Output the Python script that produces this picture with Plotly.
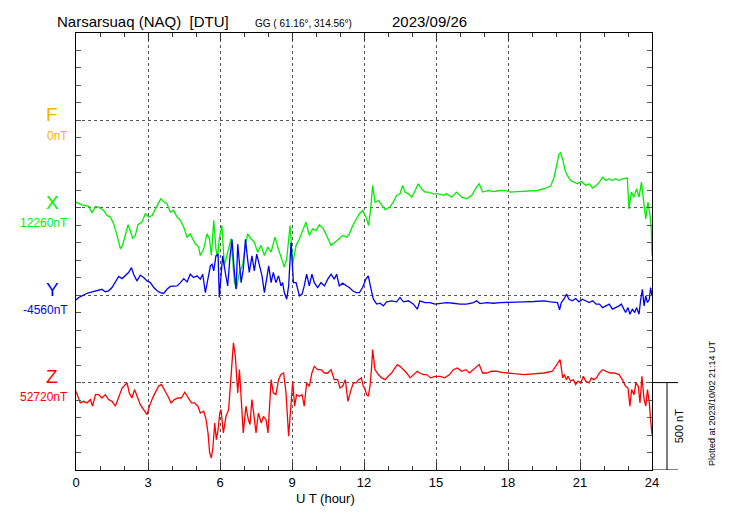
import plotly.graph_objects as go

# ---------------- data ----------------
x_hours = [0.00,0.25,0.53,0.67,0.81,0.94,1.15,1.29,1.43,1.57,1.71,1.85,1.94,2.06,2.17,2.26,2.36,2.47,2.58,2.75,2.89,3.03,3.17,3.31,3.44,3.53,3.65,3.79,3.93,4.07,4.21,4.35,4.49,4.63,4.76,4.86,4.97,5.11,5.18,5.32,5.46,5.56,5.64,5.74,5.83,5.90,
           5.97,6.08,6.18,6.32,6.46,6.60,6.69,6.81,6.94,7.06,7.15,7.29,7.43,7.57,7.71,7.85,7.99,8.13,8.29,8.43,8.57,8.68,8.78,8.92,9.03,9.17,9.31,9.47,9.58,9.72,9.86,10.00,10.14,10.31,10.46,10.63,10.81,10.97,11.11,11.28,11.39,11.53,11.67,11.81,11.94,
           12.11,12.19,12.28,12.36,12.46,12.60,12.74,12.88,13.08,13.22,13.36,13.50,13.61,13.71,13.85,13.99,14.13,14.26,14.40,14.54,14.68,14.89,15.10,15.31,15.44,15.65,15.86,16.07,16.28,16.49,16.69,16.80,16.94,17.18,17.39,17.67,17.88,
           18.11,18.39,18.67,18.94,19.22,19.50,19.78,19.92,20.03,20.13,20.19,20.29,20.38,20.47,20.61,20.75,20.89,21.06,21.24,21.38,21.53,21.67,21.81,21.94,22.08,22.21,22.35,22.49,22.63,22.76,22.97,23.04,23.14,23.25,23.36,23.46,23.56,23.64,23.74,23.83,23.92,23.97,24.00]
x_nT = [12292,12277,12268,12231,12268,12264,12245,12216,12207,12168,12102,12025,12045,12102,12163,12130,12086,12102,12163,12178,12226,12207,12216,12254,12283,12311,12296,12283,12235,12245,12207,12188,12149,12092,12111,12083,12054,12035,11987,12025,12111,12083,11987,12188,12025,11978,
        12083,12159,11930,12006,12083,11835,11797,11892,11930,12045,12111,12083,12064,12006,12045,11987,12035,12006,12092,12025,11959,11921,11968,12159,11940,12045,12083,12140,12178,12102,12140,12130,12163,12140,12092,12045,12064,12083,12102,12092,12111,12159,12197,12226,12245,
        12197,12159,12254,12388,12292,12302,12273,12250,12264,12292,12331,12340,12388,12350,12340,12321,12359,12397,12369,12350,12350,12340,12340,12331,12340,12321,12350,12321,12311,12331,12378,12397,12350,12359,12353,12359,12359,
        12350,12353,12355,12359,12359,12369,12384,12435,12502,12569,12575,12531,12474,12445,12416,12407,12397,12411,12388,12397,12373,12388,12407,12435,12416,12426,12416,12426,12416,12426,12430,12254,12350,12321,12369,12321,12407,12311,12197,12292,12216,12140,11987]

y_hours = [0.00,0.11,0.25,0.46,0.67,0.88,1.08,1.22,1.36,1.50,1.64,1.78,1.92,2.06,2.19,2.31,2.40,2.54,2.68,2.82,2.96,3.10,3.24,3.38,3.51,3.65,3.79,3.93,4.07,4.21,4.35,4.49,4.63,4.76,4.90,5.04,5.18,5.28,5.39,5.50,5.60,5.67,5.74,5.83,5.92,5.97,
           6.11,6.22,6.32,6.42,6.50,6.60,6.67,6.74,6.81,6.88,6.97,7.06,7.15,7.22,7.33,7.43,7.53,7.64,7.75,7.85,7.94,8.03,8.13,8.22,8.33,8.44,8.54,8.61,8.68,8.78,8.86,8.96,9.06,9.17,9.31,9.42,9.51,9.61,9.72,9.83,9.93,10.07,10.21,10.35,10.49,10.63,10.76,10.86,10.97,11.11,11.28,11.39,11.53,11.67,11.81,11.94,
           12.08,12.18,12.28,12.39,12.53,12.67,12.81,12.94,13.15,13.36,13.50,13.64,13.85,14.06,14.22,14.33,14.54,14.75,14.96,15.17,15.44,15.72,16.00,16.28,16.56,16.69,16.83,17.11,17.39,17.67,17.94,
           18.25,18.67,19.08,19.50,19.78,19.92,20.06,20.15,20.22,20.33,20.44,20.54,20.68,20.82,20.96,21.10,21.24,21.38,21.53,21.67,21.81,21.94,22.08,22.22,22.35,22.49,22.63,22.72,22.83,22.90,23.00,23.08,23.18,23.28,23.36,23.46,23.53,23.60,23.67,23.74,23.81,23.89,23.94,24.00]
y_nT = [-4587,-4573,-4564,-4549,-4541,-4535,-4526,-4541,-4535,-4516,-4488,-4453,-4465,-4449,-4430,-4402,-4440,-4478,-4446,-4459,-4478,-4488,-4516,-4535,-4545,-4550,-4526,-4510,-4507,-4507,-4488,-4465,-4484,-4440,-4459,-4449,-4468,-4440,-4545,-4468,-4392,-4383,-4421,-4335,-4325,-4573,
        -4335,-4430,-4507,-4335,-4240,-4430,-4526,-4268,-4392,-4488,-4411,-4240,-4354,-4430,-4335,-4421,-4325,-4392,-4449,-4545,-4468,-4392,-4488,-4430,-4488,-4449,-4507,-4488,-4545,-4583,-4507,-4259,-4488,-4488,-4564,-4554,-4507,-4440,-4507,-4440,-4488,-4516,-4488,-4507,-4468,-4440,-4468,-4440,-4507,-4491,-4507,-4516,-4535,-4545,-4545,-4516,
        -4468,-4449,-4516,-4583,-4611,-4606,-4621,-4598,-4592,-4598,-4573,-4598,-4592,-4611,-4640,-4592,-4602,-4602,-4611,-4608,-4602,-4606,-4611,-4611,-4602,-4592,-4608,-4602,-4606,-4602,-4602,
        -4602,-4598,-4596,-4592,-4598,-4602,-4602,-4644,-4602,-4583,-4554,-4583,-4592,-4579,-4598,-4583,-4592,-4602,-4592,-4611,-4611,-4631,-4621,-4611,-4640,-4631,-4621,-4611,-4640,-4659,-4631,-4669,-4640,-4659,-4631,-4669,-4583,-4526,-4621,-4564,-4602,-4583,-4516,-4564]

z_hours = [0.00,0.08,0.18,0.32,0.46,0.60,0.69,0.81,0.94,1.08,1.22,1.36,1.50,1.64,1.78,1.92,2.06,2.13,2.22,2.33,2.44,2.54,2.68,2.82,2.96,3.06,3.19,3.33,3.44,3.56,3.69,3.83,3.96,4.10,4.24,4.39,4.53,4.67,4.81,4.94,5.08,5.18,5.32,5.42,5.50,5.57,5.64,5.71,5.78,5.85,5.92,5.99,
           6.04,6.14,6.25,6.36,6.46,6.56,6.64,6.74,6.81,6.89,6.97,7.08,7.18,7.25,7.33,7.42,7.50,7.60,7.72,7.81,7.92,8.00,8.06,8.13,8.22,8.33,8.44,8.54,8.65,8.75,8.86,8.94,9.03,9.11,9.19,9.31,9.42,9.51,9.61,9.72,9.83,9.93,10.07,10.21,10.35,10.49,10.63,10.76,10.90,11.00,11.11,11.22,11.33,11.46,11.56,11.67,11.78,11.89,11.97,
           12.03,12.11,12.18,12.25,12.32,12.36,12.46,12.60,12.74,12.88,13.01,13.15,13.29,13.39,13.50,13.64,13.78,13.92,14.06,14.22,14.33,14.47,14.61,14.78,14.96,15.17,15.36,15.57,15.72,15.89,16.07,16.25,16.39,16.56,16.69,16.80,16.94,17.11,17.32,17.53,17.74,17.94,
           18.25,18.67,19.08,19.50,19.85,19.99,20.10,20.17,20.28,20.35,20.43,20.50,20.61,20.72,20.82,20.92,21.03,21.14,21.24,21.38,21.47,21.58,21.69,21.81,21.94,22.08,22.25,22.42,22.63,22.76,22.90,23.00,23.08,23.15,23.25,23.33,23.43,23.50,23.58,23.67,23.74,23.81,23.89,23.94,24.00]
z_nT = [52670,52642,52604,52613,52604,52623,52585,52651,52651,52632,52651,52623,52613,52585,52632,52689,52709,52718,52661,52632,52680,52642,52594,52566,52537,52585,52632,52670,52699,52709,52680,52642,52604,52623,52632,52632,52665,52632,52604,52604,52585,52546,52556,52508,52432,52318,52289,52356,52489,52394,52451,52546,
        52566,52432,52527,52566,52737,52947,52871,52661,52794,52642,52432,52585,52508,52480,52623,52527,52432,52546,52489,52527,52508,52432,52585,52737,52661,52651,52737,52766,52775,52661,52413,52585,52728,52585,52651,52642,52651,52585,52718,52699,52775,52813,52794,52794,52775,52775,52794,52737,52737,52689,52699,52737,52613,52680,52718,52718,52737,52747,52699,
        52689,52651,52642,52699,52813,52909,52794,52766,52747,52737,52756,52775,52804,52823,52813,52794,52775,52747,52766,52785,52775,52766,52766,52747,52756,52756,52747,52766,52794,52804,52785,52794,52775,52794,52813,52823,52775,52775,52785,52785,52779,52775,
        52771,52766,52770,52775,52785,52813,52842,52852,52747,52766,52737,52756,52728,52737,52709,52728,52718,52756,52728,52718,52747,52737,52747,52775,52794,52785,52775,52775,52766,52737,52699,52689,52585,52680,52651,52718,52699,52604,52756,52623,52585,52680,52604,52508,52423]

components = ["F", "X", "Y", "Z"]
baselines = [0, 12260, -4560, 52720]          # nT, printed under each letter
offsets = [2000, 1500, 1000, 500]            # stacking position on the plot axis
colors = ["#ffb000", "#00ee00", "#0000ff", "#ff0000"]
x_ticks = [0, 3, 6, 9, 12, 15, 18, 21, 24]

title_left = "Narsarsuaq (NAQ)  [DTU]"
title_mid = "GG ( 61.16°, 314.56°)"
title_right = "2023/09/26"
plotted_at = "Plotted at 2023/10/02 21:14 UT"
scale_label = "500 nT"

# ---------------- figure ----------------
SHIFT = 8                      # page body margin of the html page
W, H = 730 - SHIFT, 520 - SHIFT
L, R, T, B = 76, 652, 33, 470  # plot box in screen pixels
SANS = "Liberation Sans, Arial, sans-serif"


def px(xp):
    return (xp - L) / (R - L)


def py(yp):
    return (B - yp) / (B - T)


fig = go.Figure()
series = [(x_hours, x_nT, 1), (y_hours, y_nT, 2), (z_hours, z_nT, 3)]
for hrs, vals, i in series:
    fig.add_trace(go.Scatter(
        x=hrs, y=[v - baselines[i] + offsets[i] for v in vals],
        mode="lines", line=dict(color=colors[i], width=1.3),
        showlegend=False, hoverinfo="skip"))

fig.update_layout(
    width=W, height=H,
    margin=dict(l=L - SHIFT, r=730 - R, t=T - SHIFT, b=520 - B, pad=0),
    paper_bgcolor="white", plot_bgcolor="white",
    showlegend=False,
)
fig.update_xaxes(
    range=[0, 24], tickvals=x_ticks, ticktext=[str(v) for v in x_ticks],
    ticks="inside", ticklen=8, tickwidth=1, tickcolor="#333",
    minor=dict(dtick=1, ticks="inside", ticklen=4, tickcolor="#333", showgrid=False),
    showline=True, linecolor="black", linewidth=1, mirror="ticks",
    showgrid=True, gridcolor="#555", griddash="dot", gridwidth=1,
    zeroline=False,
    tickfont=dict(family=SANS, size=13, color="black"),
)
fig.update_yaxes(
    range=[0, 2500], dtick=500, tick0=0, showticklabels=False,
    ticks="inside", ticklen=5, tickcolor="#555",
    minor=dict(dtick=100, ticks="inside", ticklen=5, tickcolor="#555", showgrid=False),
    showline=True, linecolor="black", linewidth=1, mirror="ticks",
    showgrid=True, gridcolor="#555", griddash="dot", gridwidth=1,
    zeroline=False,
)

ann = []
# titles
ann.append(dict(x=px(55), y=py(22), text=title_left, xanchor="left", yanchor="middle",
                font=dict(family=SANS, size=15, color="black")))
ann.append(dict(x=px(303), y=py(23), text=title_mid, xanchor="center", yanchor="middle",
                font=dict(family=SANS, size=10, color="black")))
ann.append(dict(x=px(469), y=py(22), text=title_right, xanchor="right", yanchor="middle",
                font=dict(family=SANS, size=15, color="black")))
# component labels
letter_y = [115, 202, 289, 376]
for i, comp in enumerate(components):
    ann.append(dict(x=px(52), y=py(letter_y[i]), text=comp, xanchor="center", yanchor="middle",
                    font=dict(family=SANS, size=19, color=colors[i])))
    ann.append(dict(x=px(70), y=py(letter_y[i] + 21), text=f"{baselines[i]}nT",
                    xanchor="right", yanchor="middle",
                    font=dict(family=SANS, size=12, color=colors[i])))
# axis title
ann.append(dict(x=px(325), y=py(499), text="U T (hour)", xanchor="center", yanchor="middle",
                font=dict(family=SANS, size=13, color="black")))
# right side texts
ann.append(dict(x=px(679), y=offsets[3] / 2, yref="y", text=scale_label, textangle=-90,
                xanchor="center", yanchor="middle",
                font=dict(family=SANS, size=11, color="black")))
ann.append(dict(x=px(712), y=py(403), text=plotted_at, textangle=-90,
                xanchor="center", yanchor="middle",
                font=dict(family=SANS, size=9, color="black")))
for a in ann:
    a.setdefault("xref", "paper")
    a.setdefault("yref", "paper")
    a["showarrow"] = False
fig.update_layout(annotations=ann)

# 500 nT scale bar
shapes = [
    dict(type="line", xref="paper", yref="y", x0=1, x1=px(678), y0=offsets[3], y1=offsets[3],
         line=dict(color="black", width=1)),
    dict(type="line", xref="paper", yref="y", x0=1, x1=px(678), y0=0, y1=0,
         line=dict(color="black", width=1)),
    dict(type="line", xref="paper", yref="y", x0=px(667), x1=px(667), y0=0, y1=offsets[3],
         line=dict(color="black", width=1)),
]
fig.update_layout(shapes=shapes)

fig.write_html("out.html")
